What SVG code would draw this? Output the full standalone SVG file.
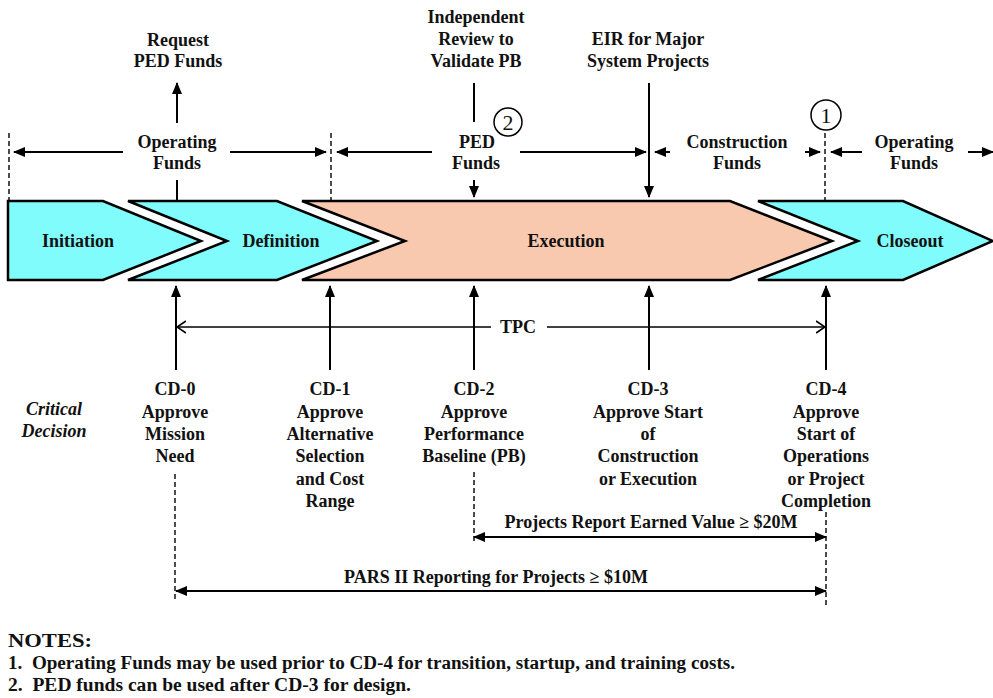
<svg xmlns="http://www.w3.org/2000/svg" width="993" height="698" viewBox="0 0 993 698">
  <style>
    text { font-family: "Liberation Serif", "Times New Roman", serif; font-weight: bold; font-size: 18px; fill: #111; }
    .c { text-anchor: middle; }
    .it { font-style: italic; }
    .num { font-weight: normal; font-size: 22px; }
    .note { font-size: 18px; white-space: pre; }
    .phase { stroke: #000; stroke-width: 2.5; stroke-linejoin: miter; }
    .cyan { fill: #80FCFC; }
    .salmon { fill: #F9C9AF; }
    .ln { stroke: #000; stroke-width: 2; fill: none; }
    .thin { stroke: #000; stroke-width: 1.6; fill: none; }
    .dash { stroke: #000; stroke-width: 1.4; stroke-dasharray: 5 3; fill: none; }
  </style>
  <defs>
    <marker id="ah" markerUnits="userSpaceOnUse" markerWidth="12" markerHeight="10" refX="11" refY="5" orient="auto">
      <path d="M0,0 L12,5 L0,10 Z" fill="#000"/>
    </marker>
    <marker id="ahs" markerUnits="userSpaceOnUse" markerWidth="12" markerHeight="10" refX="11" refY="5" orient="auto-start-reverse">
      <path d="M0,0 L12,5 L0,10 Z" fill="#000"/>
    </marker>
    <marker id="open" markerUnits="userSpaceOnUse" markerWidth="10" markerHeight="14" refX="9" refY="7" orient="auto-start-reverse">
      <path d="M0,1 L9,7 L0,13" fill="none" stroke="#000" stroke-width="1.6"/>
    </marker>
  </defs>

  <!-- phase chevrons -->
  <g id="initiation">
    <path class="phase cyan" d="M8,201 L103,201 L201,241 L103,280 L8,280 Z"/>
    <text class="c" x="78" y="247">Initiation</text>
  </g>
  <g id="definition">
    <path class="phase cyan" d="M128,201 L277,201 L377,241 L277,280 L128,280 L227,241 Z"/>
    <text class="c" x="281" y="247">Definition</text>
  </g>
  <g id="execution">
    <path class="phase salmon" d="M302,201 L730,201 L832,241 L730,280 L302,280 L405,241 Z"/>
    <text class="c" x="566" y="247">Execution</text>
  </g>
  <g id="closeout">
    <path class="phase cyan" d="M758,201 L903,201 L993,241 L903,280 L758,280 L858,241 Z"/>
    <text class="c" x="910" y="247">Closeout</text>
  </g>

  <!-- funding labels above the band -->
  <g id="request-ped">
    <text class="c" x="178" y="46">Request</text>
    <text class="c" x="178" y="67">PED Funds</text>
  </g>
  <g id="operating-funds-1">
    <text class="c" x="177" y="148">Operating</text>
    <text class="c" x="177" y="169">Funds</text>
  </g>
  <g id="independent-review">
    <text class="c" x="476" y="23">Independent</text>
    <text class="c" x="476" y="45">Review to</text>
    <text class="c" x="476" y="67">Validate PB</text>
  </g>
  <g id="ped-funds">
    <text class="c" x="477" y="148">PED</text>
    <text class="c" x="476" y="169">Funds</text>
    <circle cx="508" cy="122" r="14" fill="none" stroke="#000" stroke-width="1.5"/>
    <text class="c num" x="508" y="130">2</text>
  </g>
  <g id="eir">
    <text class="c" x="648" y="45">EIR for Major</text>
    <text class="c" x="648" y="67">System Projects</text>
  </g>
  <g id="construction-funds">
    <text class="c" x="737" y="148">Construction</text>
    <text class="c" x="737" y="169">Funds</text>
  </g>
  <g id="operating-funds-2">
    <text class="c" x="914" y="148">Operating</text>
    <text class="c" x="914" y="169">Funds</text>
    <circle cx="826" cy="115" r="15" fill="none" stroke="#000" stroke-width="1.5"/>
    <text class="c num" x="826" y="123">1</text>
  </g>

  <!-- critical decisions -->
  <g id="critical-decision">
    <text class="c it" x="54" y="415">Critical</text>
    <text class="c it" x="54" y="437">Decision</text>
  </g>
  <g id="cd0">
    <text class="c" x="175" y="395">CD-0</text>
    <text class="c" x="175" y="418">Approve</text>
    <text class="c" x="175" y="440">Mission</text>
    <text class="c" x="175" y="462">Need</text>
  </g>
  <g id="cd1">
    <text class="c" x="330" y="395">CD-1</text>
    <text class="c" x="330" y="418">Approve</text>
    <text class="c" x="330" y="440">Alternative</text>
    <text class="c" x="330" y="462">Selection</text>
    <text class="c" x="330" y="485">and Cost</text>
    <text class="c" x="330" y="507">Range</text>
  </g>
  <g id="cd2">
    <text class="c" x="474" y="395">CD-2</text>
    <text class="c" x="474" y="418">Approve</text>
    <text class="c" x="474" y="440">Performance</text>
    <text class="c" x="474" y="462">Baseline (PB)</text>
  </g>
  <g id="cd3">
    <text class="c" x="648" y="395">CD-3</text>
    <text class="c" x="648" y="418">Approve Start</text>
    <text class="c" x="648" y="440">of</text>
    <text class="c" x="648" y="462">Construction</text>
    <text class="c" x="648" y="485">or Execution</text>
  </g>
  <g id="cd4">
    <text class="c" x="826" y="395">CD-4</text>
    <text class="c" x="826" y="418">Approve</text>
    <text class="c" x="826" y="440">Start of</text>
    <text class="c" x="826" y="462">Operations</text>
    <text class="c" x="826" y="485">or Project</text>
    <text class="c" x="826" y="507">Completion</text>
  </g>

  <!-- reporting spans -->
  <g id="earned-value">
    <text class="c" x="651" y="528">Projects Report Earned Value ≥ $20M</text>
  </g>
  <g id="pars">
    <text class="c" x="496" y="583">PARS II Reporting for Projects ≥ $10M</text>
  </g>
  <g id="tpc">
    <text class="c" x="518" y="333">TPC</text>
  </g>

  <!-- notes -->
  <g id="notes">
    <text class="note" x="8" y="647" textLength="84" lengthAdjust="spacingAndGlyphs">NOTES:</text>
    <text class="note" x="8" y="669" textLength="727" lengthAdjust="spacingAndGlyphs">1.  Operating Funds may be used prior to CD-4 for transition, startup, and training costs.</text>
    <text class="note" x="8" y="691" textLength="403" lengthAdjust="spacingAndGlyphs">2.  PED funds can be used after CD-3 for design.</text>
  </g>

  <!-- connectors -->
  <g id="connectors">
    <!-- phase boundary markers -->
    <line class="dash" x1="9" y1="133" x2="9" y2="200"/>
    <line class="dash" x1="331" y1="133" x2="331" y2="200"/>
    <line class="dash" x1="825" y1="133" x2="825" y2="200"/>

    <!-- funds spans -->
    <line class="ln" x1="123" y1="152" x2="14" y2="152" marker-end="url(#ah)"/>
    <line class="ln" x1="230" y1="152" x2="326" y2="152" marker-end="url(#ah)"/>
    <line class="ln" x1="432" y1="152" x2="337" y2="152" marker-end="url(#ah)"/>
    <line class="ln" x1="520" y1="152" x2="646" y2="152" marker-end="url(#ah)"/>
    <line class="ln" x1="670" y1="152" x2="655" y2="152" marker-end="url(#ah)"/>
    <line class="ln" x1="805" y1="152" x2="820" y2="152" marker-end="url(#ah)"/>
    <line class="ln" x1="862" y1="152" x2="831" y2="152" marker-end="url(#ah)"/>
    <line class="ln" x1="968" y1="152" x2="993" y2="152" marker-end="url(#ah)"/>

    <!-- vertical links above band -->
    <line class="ln" x1="177" y1="123" x2="177" y2="83" marker-end="url(#ah)"/>
    <line class="ln" x1="177" y1="180" x2="177" y2="200"/>
    <line class="ln" x1="474" y1="83" x2="474" y2="122"/>
    <line class="ln" x1="474" y1="180" x2="474" y2="197" marker-end="url(#ah)"/>
    <line class="ln" x1="649" y1="83" x2="649" y2="197" marker-end="url(#ah)"/>

    <!-- critical decision arrows -->
    <line class="ln" x1="176" y1="370" x2="176" y2="286" marker-end="url(#ah)"/>
    <line class="ln" x1="330" y1="370" x2="330" y2="286" marker-end="url(#ah)"/>
    <line class="ln" x1="474" y1="370" x2="474" y2="286" marker-end="url(#ah)"/>
    <line class="ln" x1="649" y1="370" x2="649" y2="286" marker-end="url(#ah)"/>
    <line class="ln" x1="826" y1="370" x2="826" y2="286" marker-end="url(#ah)"/>

    <!-- TPC span -->
    <line class="thin" x1="491" y1="327" x2="177" y2="327" marker-end="url(#open)"/>
    <line class="thin" x1="547" y1="327" x2="825" y2="327" marker-end="url(#open)"/>

    <!-- reporting span guides -->
    <line class="dash" x1="175" y1="474" x2="175" y2="600"/>
    <line class="dash" x1="474" y1="472" x2="474" y2="541"/>
    <line class="dash" x1="826" y1="512" x2="826" y2="608"/>
    <line class="ln" x1="474" y1="537" x2="826" y2="537" marker-start="url(#ahs)" marker-end="url(#ahs)"/>
    <line class="ln" x1="176" y1="591" x2="826" y2="591" marker-start="url(#ahs)" marker-end="url(#ahs)"/>
  </g>
</svg>
